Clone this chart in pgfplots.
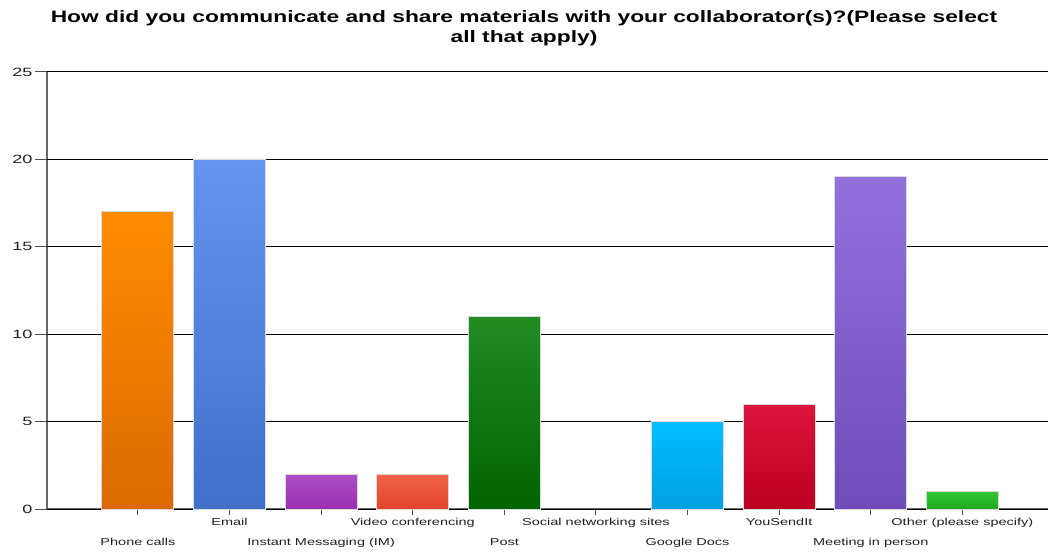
\documentclass[border=0pt]{standalone}
\usepackage{fontspec}
\setmainfont{Liberation Sans}
\newfontfamily\titlefont[FakeStretch=1.38]{Liberation Sans}
\newfontfamily\tickfont[FakeStretch=1.45]{Liberation Sans}
\newfontfamily\ytickfont[FakeStretch=1.5]{Liberation Sans}
\usepackage{pgfplots}
\pgfplotsset{compat=1.18}
\definecolor{c1t}{HTML}{FF8C00}\definecolor{c1b}{HTML}{DC6A00}
\definecolor{c2t}{HTML}{6495ED}\definecolor{c2b}{HTML}{4070C8}
\definecolor{c3t}{HTML}{B04CC8}\definecolor{c3b}{HTML}{9830B0}
\definecolor{c4t}{HTML}{F46448}\definecolor{c4b}{HTML}{E04428}
\definecolor{c5t}{HTML}{228B22}\definecolor{c5b}{HTML}{006400}
\definecolor{c7t}{HTML}{00BFFF}\definecolor{c7b}{HTML}{00A0E0}
\definecolor{c8t}{HTML}{DC143C}\definecolor{c8b}{HTML}{BC0020}
\definecolor{c9t}{HTML}{9370DB}\definecolor{c9b}{HTML}{704CB8}
\definecolor{c10t}{HTML}{32C832}\definecolor{c10b}{HTML}{20A820}
\definecolor{lbl}{HTML}{202020}
\begin{document}
\begin{tikzpicture}
\path[use as bounding box] (0,0) rectangle (1048pt,554pt);
\node[font=\titlefont\bfseries\fontsize{16.5}{20}\selectfont, align=center] at (524pt,526pt)
 {How did you communicate and share materials with your collaborator(s)?(Please select\\all that apply)};
\begin{axis}[
  at={(47pt,45pt)}, anchor=south west,
  scale only axis, width=1001pt, height=437pt,
  xmin=-0.993, xmax=9.935, ymin=0, ymax=25,
  axis x line*=bottom, axis y line*=left,
  axis line style={draw=black!60, line width=1.2pt},
  tick align=outside, major tick length=6pt,
  tick style={draw=black!70, line width=1pt},
  xtick={1,3,5,7,9},
  xticklabels={Email, Video conferencing, Social networking sites, YouSendIt, Other (please specify)},
  extra x ticks={0,2,4,6,8},
  extra x tick labels={Phone calls, Instant Messaging (IM), Post, Google Docs, Meeting in person},
  extra x tick style={grid=none, xticklabel style={yshift=-20pt}},
  xticklabel style={font=\tickfont\fontsize{10}{12}\selectfont, text=lbl},
  ytick=\empty,
  extra y ticks={0,5,10,15,20,25},
  extra y tick style={major tick length=12pt, grid=major},
  yticklabel style={font=\ytickfont\fontsize{12}{14}\selectfont, text=lbl, xshift=1pt},
  /pgf/number format/assume math mode=true,
  major grid style={draw=black, line width=1pt},
  clip=false,
]
\addplot[ybar, bar width=72pt, bar shift=0pt, draw=black!15, line width=1pt, top color=c1t, bottom color=c1b] coordinates {(0,17)};
\addplot[ybar, bar width=72pt, bar shift=0pt, draw=black!15, line width=1pt, top color=c2t, bottom color=c2b] coordinates {(1,20)};
\addplot[ybar, bar width=72pt, bar shift=0pt, draw=black!15, line width=1pt, top color=c3t, bottom color=c3b] coordinates {(2,2)};
\addplot[ybar, bar width=72pt, bar shift=0pt, draw=black!15, line width=1pt, top color=c4t, bottom color=c4b] coordinates {(3,2)};
\addplot[ybar, bar width=72pt, bar shift=0pt, draw=black!15, line width=1pt, top color=c5t, bottom color=c5b] coordinates {(4,11)};
\addplot[ybar, bar width=72pt, bar shift=0pt, draw=black!15, line width=1pt, top color=c7t, bottom color=c7b] coordinates {(6,5)};
\addplot[ybar, bar width=72pt, bar shift=0pt, draw=black!15, line width=1pt, top color=c8t, bottom color=c8b] coordinates {(7,6)};
\addplot[ybar, bar width=72pt, bar shift=0pt, draw=black!15, line width=1pt, top color=c9t, bottom color=c9b] coordinates {(8,19)};
\addplot[ybar, bar width=72pt, bar shift=0pt, draw=black!15, line width=1pt, top color=c10t, bottom color=c10b] coordinates {(9,1)};
\end{axis}
\end{tikzpicture}
\end{document}
